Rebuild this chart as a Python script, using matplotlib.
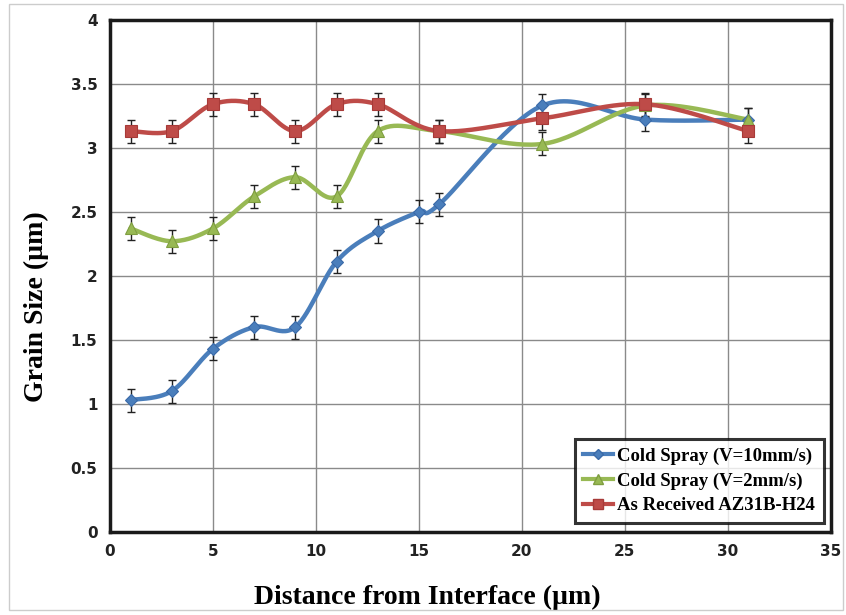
import numpy as np
import matplotlib.pyplot as plt
from matplotlib.patches import Rectangle

# distance from interface (um)
x_blue = [1, 3, 5, 7, 9, 11, 13, 15, 16, 21, 26, 31]
y_blue = [1.03, 1.10, 1.43, 1.60, 1.60, 2.11, 2.35, 2.50, 2.56, 3.33, 3.22, 3.22]

x_green = [1, 3, 5, 7, 9, 11, 13, 16, 21, 26, 31]
y_green = [2.37, 2.27, 2.37, 2.62, 2.77, 2.62, 3.13, 3.13, 3.03, 3.33, 3.22]

x_red = [1, 3, 5, 7, 9, 11, 13, 16, 21, 26, 31]
y_red = [3.13, 3.13, 3.34, 3.34, 3.13, 3.34, 3.34, 3.13, 3.23, 3.34, 3.13]

err = 0.09

labels = ['Cold Spray (V=10mm/s)', 'Cold Spray (V=2mm/s)', 'As Received AZ31B-H24']
colors = ['#4a7ebb', '#98b954', '#be4b48']
edge_colors = ['#3a6aa8', '#7f9e40', '#a83a38']
markers = ['D', '^', 's']


def smooth(xs, ys, n=30):
    """Excel-like smoothed line through the points (Catmull-Rom)."""
    xs = np.asarray(xs, float)
    ys = np.asarray(ys, float)
    px = np.concatenate([[xs[0]], xs, [xs[-1]]])
    py = np.concatenate([[ys[0]], ys, [ys[-1]]])
    out_x, out_y = [], []
    t = np.linspace(0, 1, n)
    for i in range(1, len(px) - 2):
        p0, p1, p2, p3 = (np.array([px[j], py[j]]) for j in range(i - 1, i + 3))
        c1 = p1 + (p2 - p0) / 6
        c2 = p2 - (p3 - p1) / 6
        seg = ((1 - t) ** 3)[:, None] * p1 + (3 * (1 - t) ** 2 * t)[:, None] * c1 \
            + (3 * (1 - t) * t ** 2)[:, None] * c2 + (t ** 3)[:, None] * p2
        out_x.extend(seg[:, 0])
        out_y.extend(seg[:, 1])
    return out_x, out_y


fig = plt.figure(figsize=(8.46, 6.15), dpi=100)
ax = fig.add_axes([0.130, 0.135, 0.852, 0.833])

fig.patches.append(Rectangle((0.011, 0.008), 0.985, 0.985, transform=fig.transFigure,
                             fill=False, edgecolor='#cccccc', lw=1))

series = [(x_blue, y_blue), (x_green, y_green), (x_red, y_red)]
for (xs, ys), lab, c, ec, m in zip(series, labels, colors, edge_colors, markers):
    sx, sy = smooth(xs, ys)
    ax.plot(sx, sy, color=c, lw=3.2, zorder=3, solid_capstyle='round')
    ax.errorbar(xs, ys, yerr=err, fmt='none', ecolor='#222222', elinewidth=1,
                capsize=3, capthick=1, zorder=4)
    ms = 8 if m != 'D' else 6.5
    ax.plot(xs, ys, linestyle='none', marker=m, markersize=ms, color=c,
            markeredgecolor=ec, markeredgewidth=0.8, zorder=5)
    ax.plot([], [], color=c, lw=3, marker=m, markersize=ms - 1,
            markeredgecolor=ec, label=lab)

ax.set_xlim(0, 35)
ax.set_ylim(0, 4)
ax.set_xticks(np.arange(0, 36, 5))
ax.set_yticks(np.arange(0, 4.01, 0.5))
ax.set_yticklabels(['0', '0.5', '1', '1.5', '2', '2.5', '3', '3.5', '4'])
ax.grid(True, color='#8a8a8a', lw=1)
ax.set_axisbelow(True)
ax.tick_params(length=0, labelsize=11, pad=9)
for t in ax.get_xticklabels() + ax.get_yticklabels():
    t.set_fontweight('bold')
    t.set_family('DejaVu Sans')
    t.set_color('#222222')

for s in ax.spines.values():
    s.set_linewidth(2.5)
    s.set_color('#1a1a1a')

ax.set_xlabel('Distance from Interface (\u00b5m)', family='Liberation Serif',
              fontweight='bold', fontsize=20)
ax.set_ylabel('Grain Size (\u00b5m)', family='Liberation Serif',
              fontweight='bold', fontsize=20)
ax.xaxis.set_label_coords(0.44, -0.103)
ax.yaxis.set_label_coords(-0.085, 0.44)

leg = ax.legend(loc='lower right', prop={'family': 'Liberation Serif', 'weight': 'bold', 'size': 13.5},
                frameon=True, fancybox=False, handlelength=1.6, handletextpad=0.2,
                borderpad=0.45, labelspacing=0.4, bbox_to_anchor=(1.003, 0.0))
leg.get_frame().set_edgecolor('black')
leg.get_frame().set_linewidth(2.2)
leg.set_zorder(10)

fig.savefig('out.png', dpi=100)
